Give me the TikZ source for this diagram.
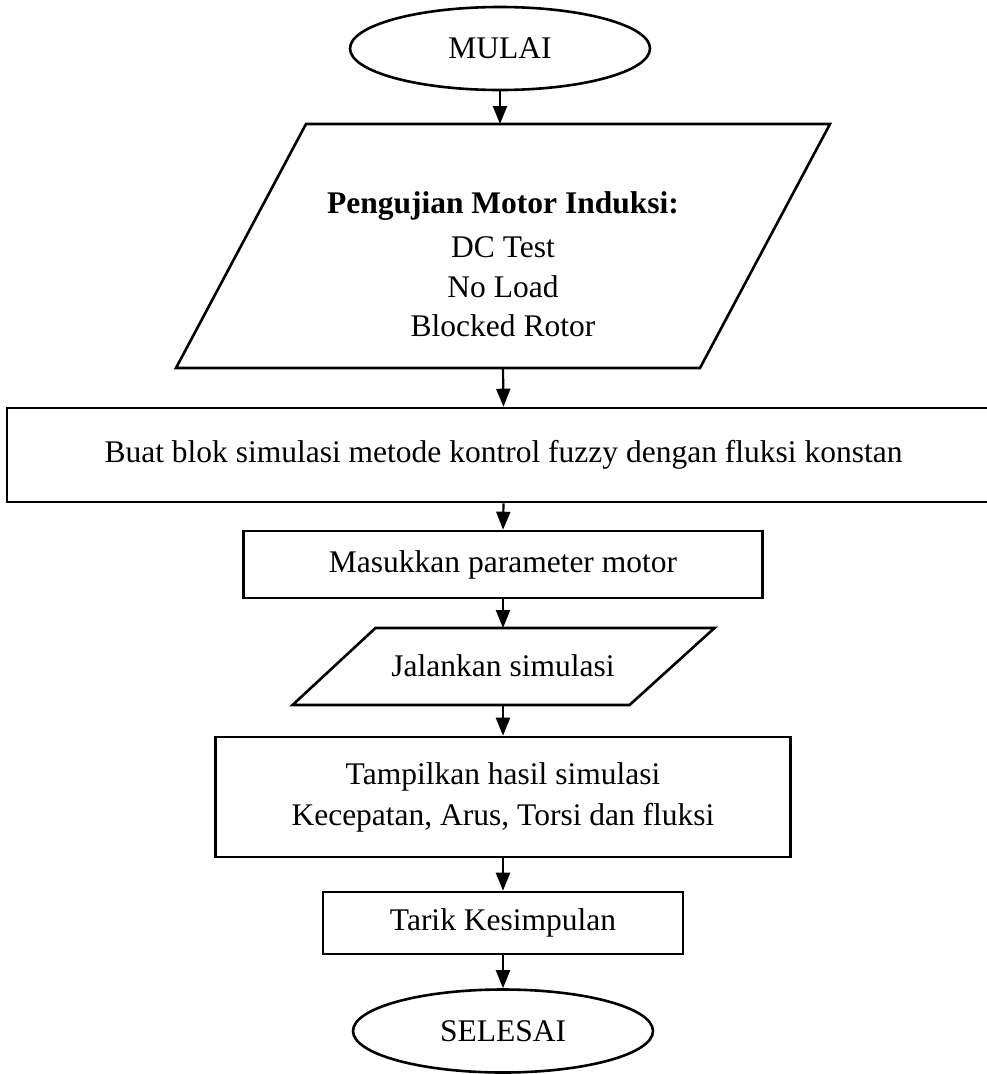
\documentclass[tikz,border=0pt]{standalone}
\usepackage{fontspec}
\setmainfont{Liberation Serif}
\usetikzlibrary{shapes.geometric,arrows.meta}
\begin{document}
\begin{tikzpicture}[x=1pt,y=-1pt,
  every node/.style={font=\fontsize{31.5}{41}\selectfont},
  term/.style={ellipse, draw, line width=2.6pt, minimum width=300pt, minimum height=83pt, inner sep=0pt},
  proc/.style={rectangle, draw, line width=2.6pt, inner sep=0pt, align=center},
  io/.style={draw, line width=2.6pt, line join=miter},
  label/.style={align=center, inner sep=0pt},
  flow/.style={line width=2.2pt, -{Triangle[length=18pt,width=14pt]}}
]
\clip (0,0) rectangle (987,1074);

% terminals
\node[term] (mulai) at (500,48.5) {MULAI};
\node[term] (selesai) at (503,1031) {SELESAI};

% input: motor tests
\draw[io] (306,124) -- (830,124) -- (700,368) -- (176,368) -- cycle;
\coordinate (ujiTop) at (500,124);
\coordinate (ujiBot) at (503,368);
\node[label] (uji1) at (503,206) {\bfseries Pengujian Motor Induksi:};
\node[label] (uji2) at (503,247) {DC Test};
\node[label] (uji3) at (503,287) {No Load};
\node[label] (uji4) at (503,326) {Blocked Rotor};

% processes
\node[proc, minimum width=993pt, minimum height=94pt] (blok) at (503.5,455)
  {Buat blok simulasi metode kontrol fuzzy dengan fluksi konstan};
\node[proc, minimum width=519pt, minimum height=67pt] (param) at (503,564.5)
  {Masukkan parameter motor};

% input: run simulation
\draw[io] (375.5,628) -- (714.5,628) -- (629.5,705) -- (292.5,705) -- cycle;
\coordinate (jalanTop) at (503,628);
\coordinate (jalanBot) at (503,705);
\node[label] (jalan) at (503,666) {Jalankan simulasi};

\node[proc, minimum width=575pt, minimum height=120pt] (hasil) at (503,797)
  {Tampilkan hasil simulasi\\Kecepatan, Arus, Torsi dan fluksi};
\node[proc, minimum width=360pt, minimum height=62pt] (tarik) at (503,923)
  {Tarik Kesimpulan};

% connectors
\draw[flow] (mulai) -- (ujiTop);
\draw[flow] (ujiBot) -- (blok.north);
\draw[flow] (blok.south) -- (param.north);
\draw[flow] (param.south) -- (jalanTop);
\draw[flow] (jalanBot) -- (hasil.north);
\draw[flow] (hasil.south) -- (tarik.north);
\draw[flow] (tarik.south) -- (selesai.north);
\end{tikzpicture}
\end{document}
